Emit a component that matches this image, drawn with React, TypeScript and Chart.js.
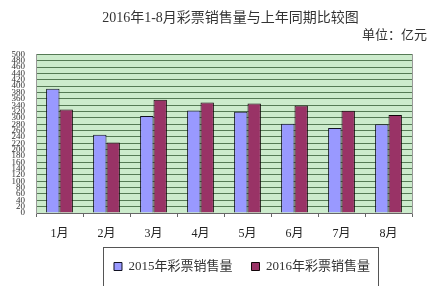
import { useEffect, useRef } from 'react';
import { Chart, registerables } from 'chart.js';

Chart.register(...registerables);

const months = ['1月', '2月', '3月', '4月', '5月', '6月', '7月', '8月'];
const sales2015 = [392, 247, 306, 323, 319, 281, 268, 280];
const sales2016 = [326, 222, 357, 348, 345, 339, 322, 309];
const seriesNames = ['2015年彩票销售量', '2016年彩票销售量'];
const yMin = 0;
const yMax = 500;
const yStep = 20;
const titleText = '2016年1-8月彩票销售量与上年同期比较图';
const unitText = '单位：亿元';

const FONT = "'Liberation Serif', 'Noto Sans CJK SC', serif";

const plotBg = {
  id: 'plotBg',
  beforeDraw(chart: any) {
    const { ctx, chartArea } = chart;
    if (!chartArea) return;
    ctx.save();
    ctx.fillStyle = '#CCEBCC';
    ctx.fillRect(chartArea.left, chartArea.top, chartArea.right - chartArea.left, chartArea.bottom - chartArea.top);
    ctx.restore();
  },
};

const placeBoxes = {
  id: 'placeBoxes',
  afterUpdate(chart: any) {
    const tb = chart.titleBlock;
    if (tb) {
      tb.left += 15;
      tb.right += 15;
    }
    const lg = chart.legend;
    if (!lg) return;
    const h = lg.bottom - lg.top;
    lg.left += 26.5;
    lg.right += 26.5;
    lg.top = 241;
    lg.bottom = 241 + h;
    if (typeof lg.adjustHitBoxes === 'function') lg.adjustHitBoxes();
  },
  afterDraw(chart: any) {
    const lg = chart.legend;
    if (!lg) return;
    const { ctx } = chart;
    const cx = (lg.left + lg.right) / 2;
    ctx.save();
    ctx.strokeStyle = '#555';
    ctx.lineWidth = 1;
    ctx.strokeRect(Math.round(cx - 139) + 0.5, Math.round(lg.top) + 6 + 0.5, 275, 60);
    ctx.restore();
  },
};

export default function App() {
  const ref = useRef<HTMLCanvasElement | null>(null);
  useEffect(() => {
    document.body.style.margin = '0';
    const canvas = ref.current;
    if (!canvas) return;
    const chart = new Chart(canvas, {
      type: 'bar',
      data: {
        labels: months,
        datasets: [
          {
            label: seriesNames[0],
            data: sales2015,
            backgroundColor: '#9999FF',
            borderColor: '#111122',
            borderWidth: 1,
            barPercentage: 1,
            categoryPercentage: 0.57,
          },
          {
            label: seriesNames[1],
            data: sales2016,
            backgroundColor: '#993366',
            borderColor: '#110508',
            borderWidth: 1,
            barPercentage: 1,
            categoryPercentage: 0.57,
          },
        ],
      },
      options: {
        responsive: false,
        animation: false,
        layout: { padding: { left: 4, right: 21, top: 0, bottom: 1 } },
        plugins: {
          title: {
            display: true,
            text: titleText,
            color: '#333',
            font: { family: FONT, size: 14, weight: 'normal' },
            padding: { top: 10, bottom: 1 },
          },
          subtitle: {
            display: true,
            text: unitText,
            align: 'end',
            color: '#333',
            font: { family: FONT, size: 13, weight: 'normal' },
            padding: { top: 0, bottom: 11 },
          },
          legend: {
            position: 'bottom',
            labels: {
              boxWidth: 8,
              boxHeight: 8,
              padding: 19,
              color: '#333',
              font: { family: FONT, size: 13 },
            },
          },
          tooltip: { enabled: false },
        },
        scales: {
          x: {
            grid: { display: true, drawOnChartArea: false, offset: true, tickLength: 4, color: '#666' },
            border: { color: '#666' },
            ticks: { color: '#222', padding: 10, font: { family: FONT, size: 12 } },
            afterFit: (s: any) => {
              s.height = 30;
            },
          },
          y: {
            min: yMin,
            max: yMax,
            ticks: { stepSize: yStep, autoSkip: false, padding: 11, color: '#333', font: { family: FONT, size: 9 } },
            grid: { color: '#557a55', drawTicks: false },
            border: { color: '#999' },
            afterFit: (s: any) => {
              s.width = 32;
            },
          },
          y2: {
            position: 'right',
            min: yMin,
            max: yMax,
            grid: { display: false, drawOnChartArea: false },
            ticks: { display: false },
            border: { display: true, color: '#999' },
            afterFit: (s: any) => {
              s.width = 15;
            },
          },
        },
      } as any,
      plugins: [plotBg, placeBoxes],
    });
    return () => chart.destroy();
  }, []);
  return (
    <div style={{ width: 448, height: 286 }}>
      <canvas ref={ref} width={448} height={286} style={{ width: 448, height: 286, display: 'block' }} />
    </div>
  );
}
